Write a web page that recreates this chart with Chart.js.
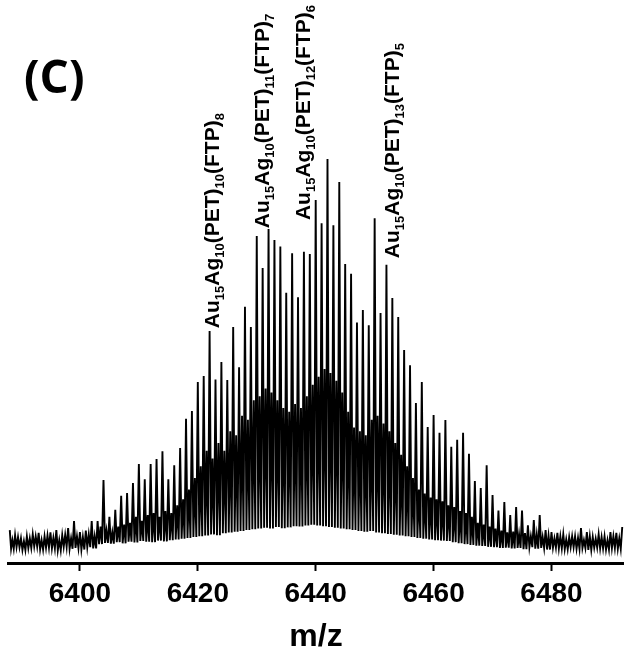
<!DOCTYPE html>
<html>
<head>
<meta charset="utf-8">
<script src="https://cdn.jsdelivr.net/npm/chart.js@4/dist/chart.umd.min.js"></script>
<style>
  html,body{margin:0;padding:0;background:#fff;}
</style>
</head>
<body>
<canvas id="ms" width="624" height="662"></canvas>
<script>
// main peaks: m/z and height (% of tallest)
const peakMz = [6388.1,6389,6390,6391,6392,6393,6394,6395,6396,6397,6398,6399,6400,6401,6402,6403,6404,6405,6406,6407,
  6408,6409,6410,6411,6412,6413,6414,6415,6416,6417,6418,6419,6420,6421,6422,6423,6424,6425,6426,6427,
  6428,6429,6430,6431,6432,6433,6434,6435,6436,6437,6438,6439,6440,6441,6442,6443,6444,6445,6446,6447,
  6448,6449,6450,6451,6452,6453,6454,6455,6456,6457,6458,6459,6460,6461,6462,6463,6464,6465,6466,6467,
  6468,6469,6470,6471,6472,6473,6474,6475,6476,6477,6478,6479,6480,6481,6482,6483,6484,6485,6486,6487,
  6488,6489,6490,6491,6492];
const peakInt = [4.6,3.3,2.5,3.0,3.5,3.9,3.0,4.0,4.6,3.3,5.1,6.9,4.1,4.5,6.9,6.9,17.5,8.0,9.8,13.4,
  14.1,16.7,21.6,17.7,21.6,22.9,24.9,17.7,21.3,25.7,33.2,35.2,42.7,44.2,55.8,43.3,47.8,43.2,56.8,46.5,
  62.0,56.8,80.2,72.0,82.0,79.2,77.5,65.6,75.8,64.5,76.2,75.6,89.5,83.5,100,83.0,94.1,73.0,70.5,58.0,
  61.2,57.3,84.8,60.4,72.8,64.3,59.4,50.9,47.0,37.3,42.7,31.1,34.2,29.6,32.9,26.0,27.8,29.6,24.2,17.2,
  15.4,21.3,13.6,9.6,11.8,8.5,10.5,9.6,5.8,7.2,8.5,4.6,4.1,3.9,3.5,2.8,3.0,5.1,4.1,2.8,
  3.5,3.0,4.1,3.9,5.4];
// smaller peak between each main peak and the next
const minorInt = [2.0,2.8,1.8,2.5,3.0,2.0,3.2,2.6,2.0,3.4,2.5,3.0,2.8,3.5,3.0,5.5,4.5,4.0,5.5,6.0,
  6.5,8.0,7.0,8.5,9.0,8.0,9.5,9.0,11.0,12.5,15.0,18.0,21.0,25.0,23.0,27.0,25.0,30.0,29.0,34.0,
  33.0,38.0,39.0,41.0,40.0,38.0,36.0,35.0,37.0,36.0,39.0,42.0,44.0,46.0,45.0,43.0,40.0,35.0,31.0,30.0,
  29.0,33.0,34.0,32.0,30.0,27.0,24.0,21.0,18.0,15.0,14.0,13.0,12.5,12.0,11.0,10.5,9.5,9.0,8.0,6.5,
  6.0,5.5,5.0,4.5,4.0,4.2,3.5,3.8,3.0,3.5,2.8,3.2,2.5,3.0,2.2,3.0,2.6,2.0,3.0,2.4,
  2.8,2.0,3.0,2.5];
// floor level between peaks
const troughInt = [-0.2,0.2,-0.5,0,0.4,-0.4,0.1,-0.1,-0.6,0.3,-0.2,0,-0.4,0.2,-0.1,
  1.0,1.3,1.1,1.5,1.2,1.6,1.4,1.8,1.6,1.5,1.9,1.7,2.0,
  2.2,2.4,2.6,2.8,3.0,3.2,3.5,3.3,3.8,4.0,4.2,4.4,4.6,4.8,
  5.0,5.2,5.0,5.4,5.1,5.3,5.6,5.5,5.8,6.0,5.8,5.6,5.4,5.2,5.0,4.8,4.6,4.4,
  4.2,4.4,4.0,3.8,3.6,3.4,3.2,3.0,2.8,2.6,2.4,2.2,2.0,1.9,1.8,
  1.5,1.2,1.0,0.8,0.6,0.5,0.3,0.2,0,0.1,-0.1,0,-0.3,0.2,-0.2,0,-0.4,0.1,-0.1,-0.3,0.2,-0.2,0,-0.5,0.1,-0.1,-0.4,0,-0.2];

const xTicks = [6400,6420,6440,6460,6480];

// peak assignments
const labelMz = [6422.4,6430.9,6437.8,6452.9];
const labelTop = [56.0,81.7,83.8,74.0];
const labelPET = ['10','11','12','13'];
const labelFTP = ['8','7','6','5'];

// build the trace: peak, trough, minor peak, trough
const trace = [];
peakMz.forEach((m,i)=>{
  trace.push({x:m, y:peakInt[i]});
  if(i < minorInt.length){
    const q = (peakMz[i+1]-m)/4;
    trace.push({x:m+q, y:troughInt[i]});
    trace.push({x:m+2*q, y:minorInt[i]});
    trace.push({x:m+3*q, y:troughInt[i]});
  }
});

const annotate = {
  id:'annotate',
  afterDatasetsDraw(chart){
    const {ctx, scales:{x, y}} = chart;
    ctx.save();
    ctx.fillStyle = '#000';
    ctx.font = 'bold 46px "Open Sans"';
    ctx.textBaseline = 'alphabetic';
    ctx.fillText('(C)', 24, 93);
    labelMz.forEach((m,i)=>{
      const px = x.getPixelForValue(m), py = y.getPixelForValue(labelTop[i]);
      const parts = [['Au',0],['15',1],['Ag',0],['10',1],['(PET)',0],[labelPET[i],1],['(FTP)',0],[labelFTP[i],1]];
      ctx.save();
      ctx.translate(px, py);
      ctx.rotate(-Math.PI/2);
      let cx = 2;
      parts.forEach(([t,sub])=>{
        ctx.font = sub ? 'bold 13px "Liberation Sans"' : 'bold 21px "Liberation Sans"';
        ctx.fillText(t, cx, sub ? 12 : 7);
        cx += ctx.measureText(t).width;
      });
      ctx.restore();
    });
    ctx.restore();
  }
};

new Chart(document.getElementById('ms').getContext('2d'),{
  type:'line',
  data:{datasets:[{data:trace, borderColor:'#000', borderWidth:1.9, pointRadius:0, tension:0, fill:false}]},
  options:{
    responsive:false, animation:false, devicePixelRatio:1,
    layout:{padding:{left:8,right:0,top:0,bottom:0}},
    plugins:{legend:{display:false}, tooltip:{enabled:false}},
    scales:{
      x:{
        type:'linear', min:6387.8, max:6492.3,
        border:{display:true, color:'#000', width:3},
        grid:{drawOnChartArea:false, drawTicks:true, tickLength:8, tickWidth:2, color:'#000'},
        afterBuildTicks:s=>{ s.ticks = xTicks.map(v=>({value:v})); },
        ticks:{color:'#000', padding:6, maxRotation:0, autoSkip:false,
          font:{family:'Liberation Sans', weight:'bold', size:28},
          callback:v=>String(v)},
        title:{display:true, text:'m/z', color:'#000',
          font:{family:'Liberation Sans', weight:'bold', size:32}, padding:{top:0,bottom:6}},
        afterFit:s=>{ s.height = 99; }
      },
      y:{display:false, min:-3.86, max:140.9}
    }
  },
  plugins:[annotate]
});
</script>
</body>
</html>
